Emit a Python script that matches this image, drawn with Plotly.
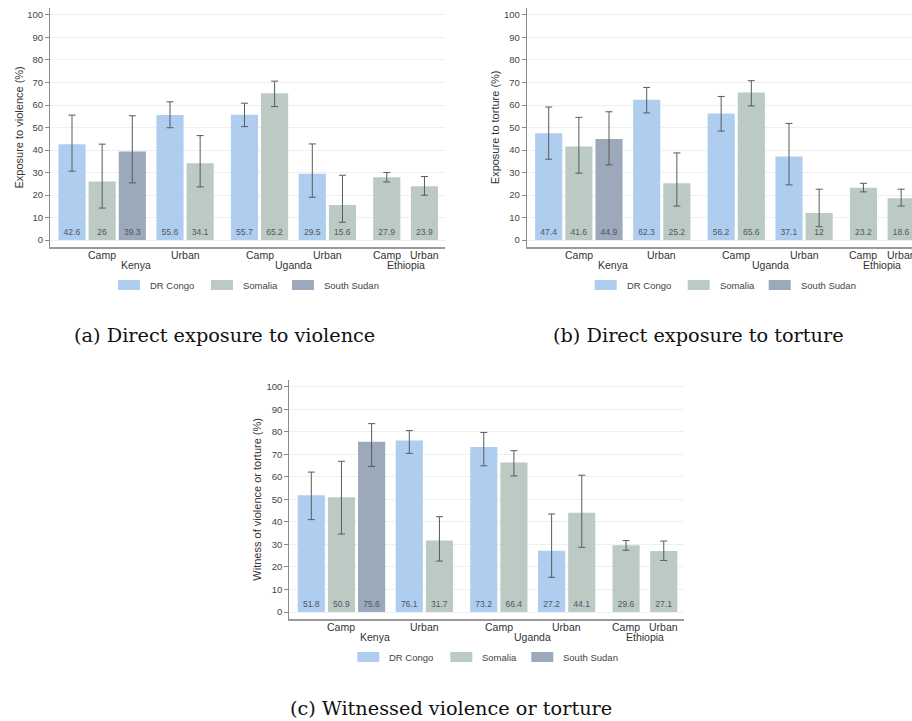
import plotly.graph_objects as go

# ---------------- data ----------------
bar_country = ["Kenya", "Kenya", "Kenya", "Kenya", "Kenya",
               "Uganda", "Uganda", "Uganda", "Uganda",
               "Ethiopia", "Ethiopia"]
bar_setting = ["Camp", "Camp", "Camp", "Urban", "Urban",
               "Camp", "Camp", "Urban", "Urban",
               "Camp", "Urban"]
bar_origin = ["DR Congo", "Somalia", "South Sudan", "DR Congo", "Somalia",
              "DR Congo", "Somalia", "DR Congo", "Somalia",
              "Somalia", "Somalia"]
origins = ["DR Congo", "Somalia", "South Sudan"]

violence = [42.6, 26, 39.3, 55.6, 34.1, 55.7, 65.2, 29.5, 15.6, 27.9, 23.9]
violence_lo = [30.6, 14.2, 25.4, 49.9, 23.6, 50.4, 59.3, 19.0, 7.9, 25.8, 19.9]
violence_hi = [55.5, 42.6, 55.2, 61.4, 46.4, 60.8, 70.6, 42.7, 28.8, 30.0, 28.2]

torture = [47.4, 41.6, 44.9, 62.3, 25.2, 56.2, 65.6, 37.1, 12, 23.2, 18.6]
torture_lo = [35.9, 29.7, 33.4, 56.5, 15.1, 48.4, 59.6, 24.5, 5.9, 21.4, 15.1]
torture_hi = [59.1, 54.5, 57.0, 67.8, 38.7, 63.8, 70.8, 51.8, 22.6, 25.2, 22.6]

witness = [51.8, 50.9, 75.6, 76.1, 31.7, 73.2, 66.4, 27.2, 44.1, 29.6, 27.1]
witness_lo = [41.0, 34.6, 64.6, 70.4, 22.6, 64.9, 60.4, 15.4, 28.7, 27.4, 22.9]
witness_hi = [62.1, 66.9, 83.6, 80.5, 42.3, 79.7, 71.6, 43.5, 60.7, 31.7, 31.5]

y_titles = ["Exposure to violence (%)", "Exposure to torture (%)",
            "Witness of violence or torture (%)"]
captions = ["(a) Direct exposure to violence", "(b) Direct exposure to torture",
            "(c) Witnessed violence or torture"]
y_ticks = [0, 10, 20, 30, 40, 50, 60, 70, 80, 90, 100]

# ---------------- styling ----------------
W, H = 912, 721
colors = {"DR Congo": "#afcdee", "Somalia": "#bccac4", "South Sudan": "#9ca9ba"}
SANS = "Liberation Sans, Arial, sans-serif"
SERIF = "DejaVu Serif, serif"
UNIT = 30.15          # px per bar slot
PPU = 2.25            # px per y unit
Y_RANGE = [-3.1, 103.1]

# bar positions derived from group structure
xpos = []
cur = 0.0
for i in range(len(bar_country)):
    if i > 0:
        if bar_country[i] != bar_country[i - 1]:
            cur += 1.47
        elif bar_setting[i] != bar_setting[i - 1]:
            cur += 1.25
        else:
            cur += 1.0
    xpos.append(cur)

# panel boxes in page pixels: left, top, bottom, right
panels = [
    dict(left=50, top=8, bottom=247, right=445),
    dict(left=526.7, top=8, bottom=247, right=912),
    dict(left=289.3, top=379.7, bottom=619, right=684.3),
]
series = [(violence, violence_lo, violence_hi),
          (torture, torture_lo, torture_hi),
          (witness, witness_lo, witness_hi)]
caption_pos = [(224, 335), (698.5, 335), (451, 708)]


def px(x):
    return x / W


def py(y):
    return 1 - y / H


fig = go.Figure()
annotations = []
shapes = []

for k, (pan, (vals, lo, hi)) in enumerate(zip(panels, series)):
    sfx = "" if k == 0 else str(k + 1)
    xa, ya = "x" + sfx, "y" + sfx
    for org in origins:
        idx = [i for i, o in enumerate(bar_origin) if o == org]
        fig.add_trace(go.Bar(
            x=[xpos[i] for i in idx],
            y=[vals[i] for i in idx],
            width=0.9,
            marker=dict(color=colors[org], line=dict(width=0)),
            error_y=dict(type="data", symmetric=False,
                         array=[hi[i] - vals[i] for i in idx],
                         arrayminus=[vals[i] - lo[i] for i in idx],
                         color="#5a5a5a", thickness=1, width=3.5),
            text=[vals[i] for i in idx],
            texttemplate="%{y}",
            textposition="inside",
            insidetextanchor="start",
            textangle=0,
            insidetextfont=dict(family=SANS, size=8.5, color="#4d5766"),
            name=org, showlegend=False, xaxis=xa, yaxis=ya,
        ))
    x0 = -0.73
    x1 = x0 + (pan["right"] - pan["left"]) / UNIT
    fig.layout["xaxis" + sfx] = dict(
        domain=[px(pan["left"]), min(1.0, px(pan["right"]))], range=[x0, x1],
        anchor=ya, showticklabels=False, ticks="", showgrid=False,
        zeroline=False, showline=True, linecolor="#9a9a9a", linewidth=1.6,
    )
    fig.layout["yaxis" + sfx] = dict(
        domain=[py(pan["bottom"]), min(1.0, py(pan["top"]))], range=Y_RANGE,
        anchor=xa, tickvals=y_ticks, ticks="outside", ticklen=4,
        tickcolor="#8a8a8a", tickwidth=1,
        tickfont=dict(family=SANS, size=9.5, color="#444444"),
        showgrid=True, gridcolor="#efefef", gridwidth=1, zeroline=False,
        showline=True, linecolor="#8a8a8a", linewidth=1,
    )
    y0px = pan["bottom"] - 3.1 * PPU
    # setting labels and country labels
    seen = []
    for i in range(len(bar_country)):
        key = (bar_country[i], bar_setting[i])
        if key not in seen:
            seen.append(key)
    for c, s in seen:
        g = [xpos[i] for i in range(len(xpos)) if bar_country[i] == c and bar_setting[i] == s]
        annotations.append(dict(x=(min(g) + max(g)) / 2, y=py(y0px + 14.5), xref=xa, yref="paper",
                                text=s, showarrow=False, xanchor="center", yanchor="middle",
                                font=dict(family=SANS, size=10.5, color="#333333")))
    countries = []
    for c in bar_country:
        if c not in countries:
            countries.append(c)
    for c in countries:
        g = [xpos[i] for i in range(len(xpos)) if bar_country[i] == c]
        annotations.append(dict(x=(min(g) + max(g)) / 2, y=py(y0px + 24.5), xref=xa, yref="paper",
                                text=c, showarrow=False, xanchor="center", yanchor="middle",
                                font=dict(family=SANS, size=10.5, color="#333333")))
    # y title
    annotations.append(dict(x=px(pan["left"] - 32), y=py((pan["top"] + pan["bottom"]) / 2),
                            xref="paper", yref="paper", text=y_titles[k], textangle=-90,
                            showarrow=False, xanchor="center", yanchor="middle",
                            font=dict(family=SANS, size=11, color="#333333")))
    # legend
    box_off = [68, 161, 242]
    for org, off in zip(origins, box_off):
        shapes.append(dict(type="rect", xref="paper", yref="paper",
                           x0=px(pan["left"] + off), x1=px(pan["left"] + off + 22),
                           y0=py(y0px + 50), y1=py(y0px + 40),
                           fillcolor=colors[org], line=dict(width=0)))
        annotations.append(dict(x=px(pan["left"] + off + 30), y=py(y0px + 45),
                                xref="paper", yref="paper", text=org, showarrow=False,
                                xanchor="left", yanchor="middle",
                                font=dict(family=SANS, size=9.5, color="#444444")))
    # caption
    cx, cy = caption_pos[k]
    annotations.append(dict(x=px(cx), y=py(cy), xref="paper", yref="paper",
                            text=captions[k], showarrow=False, xanchor="center",
                            yanchor="middle",
                            font=dict(family=SERIF, size=19.3, color="#111111")))

fig.update_layout(
    width=W, height=H, margin=dict(l=0, r=0, t=0, b=0),
    paper_bgcolor="white", plot_bgcolor="white",
    barmode="overlay", showlegend=False,
    annotations=annotations, shapes=shapes,
)

fig.write_html(
    "out.html",
    config={"displayModeBar": False},
    post_script="document.body.style.margin='0';document.body.style.overflow='hidden';",
)
